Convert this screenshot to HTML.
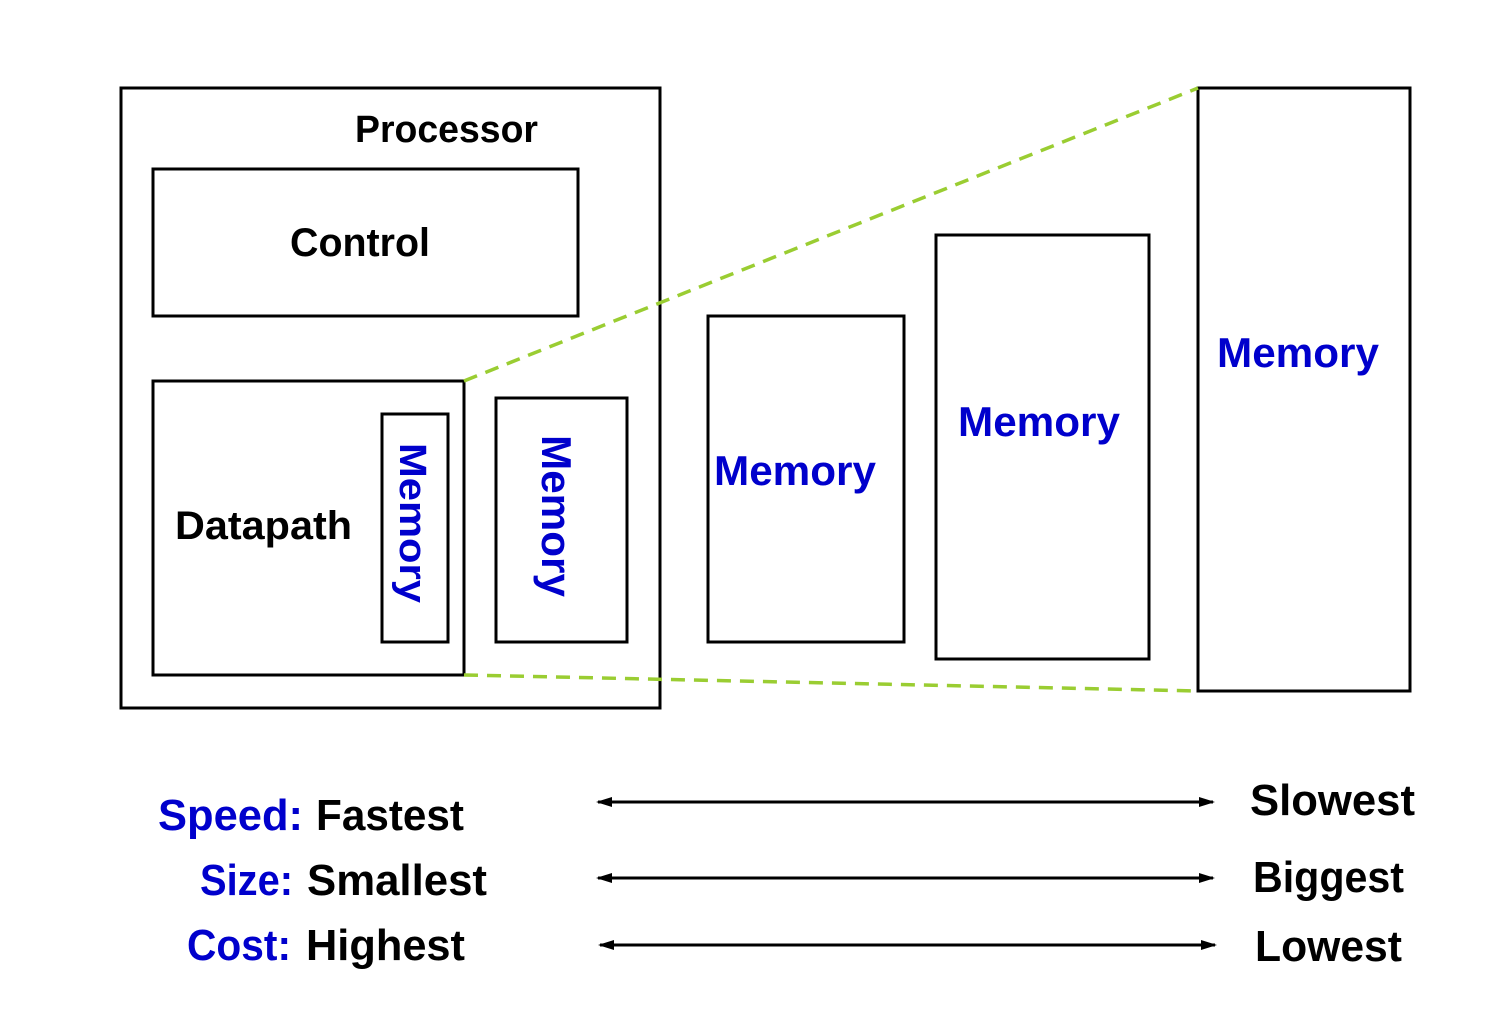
<!DOCTYPE html>
<html><head><meta charset="utf-8"><style>
html,body{margin:0;padding:0;background:#fff;}
svg{display:block;}
text{font-family:"Liberation Sans",sans-serif;font-weight:bold;}
</style></head><body>
<svg width="1502" height="1028" viewBox="0 0 1502 1028" xmlns="http://www.w3.org/2000/svg">
<defs>
<marker id="ah" markerWidth="16" markerHeight="12" refX="14" refY="6" orient="auto-start-reverse" markerUnits="userSpaceOnUse" viewBox="0 0 16 12">
<path d="M0,1 L16,6 L0,11 z" fill="#000"/>
</marker>
</defs>
<g fill="none" stroke="#000" stroke-width="3">
<rect x="121" y="88" width="539" height="620"/>
<rect x="153" y="169" width="425" height="147"/>
<rect x="153" y="381" width="311" height="294"/>
<rect x="382" y="414" width="66" height="228"/>
<rect x="496" y="398" width="131" height="244"/>
<rect x="708" y="316" width="196" height="326"/>
<rect x="936" y="235" width="213" height="424"/>
<rect x="1198" y="88" width="212" height="603"/>
</g>
<g stroke="#9acd32" stroke-width="3.5" stroke-dasharray="14,9" fill="none">
<line x1="464" y1="381" x2="1198" y2="88"/>
<line x1="464" y1="675" x2="1198" y2="691"/>
</g>
<g stroke="#000" stroke-width="3" fill="none">
<line x1="598" y1="802" x2="1213" y2="802" marker-start="url(#ah)" marker-end="url(#ah)"/>
<line x1="598" y1="878" x2="1213" y2="878" marker-start="url(#ah)" marker-end="url(#ah)"/>
<line x1="600" y1="945" x2="1215" y2="945" marker-start="url(#ah)" marker-end="url(#ah)"/>
</g>
<g fill="#000">
<text x="355" y="142" font-size="38" textLength="183" lengthAdjust="spacingAndGlyphs">Processor</text>
<text x="290" y="256" font-size="40" textLength="140" lengthAdjust="spacingAndGlyphs">Control</text>
<text x="175" y="539" font-size="40" textLength="177" lengthAdjust="spacingAndGlyphs">Datapath</text>
</g>
<g fill="#0000cc">
<text transform="translate(400,443) rotate(90)" font-size="38" textLength="160" lengthAdjust="spacingAndGlyphs">Memory</text>
<text transform="translate(542,435) rotate(90)" font-size="42" textLength="162" lengthAdjust="spacingAndGlyphs">Memory</text>
<text x="714" y="485" font-size="42" textLength="162" lengthAdjust="spacingAndGlyphs">Memory</text>
<text x="958" y="436" font-size="42" textLength="162" lengthAdjust="spacingAndGlyphs">Memory</text>
<text x="1217" y="367" font-size="42" textLength="162" lengthAdjust="spacingAndGlyphs">Memory</text>
</g>
<g font-size="44">
<text x="158" y="830" fill="#0000cc" textLength="145" lengthAdjust="spacingAndGlyphs">Speed:</text>
<text x="316" y="830" fill="#000" textLength="148" lengthAdjust="spacingAndGlyphs">Fastest</text>
<text x="200" y="895" fill="#0000cc" textLength="93" lengthAdjust="spacingAndGlyphs">Size:</text>
<text x="307" y="895" fill="#000" textLength="180" lengthAdjust="spacingAndGlyphs">Smallest</text>
<text x="187" y="960" fill="#0000cc" textLength="104" lengthAdjust="spacingAndGlyphs">Cost:</text>
<text x="306" y="960" fill="#000" textLength="159" lengthAdjust="spacingAndGlyphs">Highest</text>
<text x="1250" y="815" fill="#000" textLength="165" lengthAdjust="spacingAndGlyphs">Slowest</text>
<text x="1253" y="892" fill="#000" textLength="151" lengthAdjust="spacingAndGlyphs">Biggest</text>
<text x="1255" y="961" fill="#000" textLength="147" lengthAdjust="spacingAndGlyphs">Lowest</text>
</g>
</svg>
</body></html>
